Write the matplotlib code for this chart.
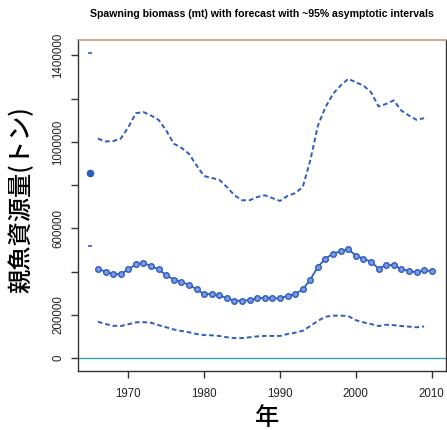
import matplotlib

matplotlib.use("Agg")
import matplotlib.pyplot as plt

# Spawning biomass estimates (mt) and ~95% asymptotic intervals
years = list(range(1966, 2011))
biomass = [
    414000, 399000, 388000, 388000, 410000, 434000, 440000, 425000, 410000, 383000,
    363000, 351000, 340000, 317000, 296000, 296000, 291000, 276000, 265000, 265000,
    268000, 276000, 279000, 276000, 276000, 288000, 296000, 317000, 363000, 422000,
    460000, 483000, 494000, 503000, 474000, 460000, 445000, 414000, 430000, 430000,
    411000, 403000, 396000, 406000, 402000,
]

ci_years = list(range(1966, 2010))
upper = [
    1015000, 1002000, 1004000, 1015000, 1068000, 1133000, 1138000, 1122000, 1102000, 1053000,
    992000, 973000, 945000, 891000, 842000, 833000, 825000, 791000, 753000, 730000,
    730000, 745000, 753000, 740000, 727000, 750000, 763000, 791000, 915000, 1076000,
    1161000, 1223000, 1261000, 1292000, 1276000, 1261000, 1230000, 1164000, 1176000, 1192000,
    1145000, 1122000, 1102000, 1110000,
]
lower = [
    168000, 157000, 149000, 148000, 156000, 165000, 166000, 163000, 152000, 142000,
    132000, 125000, 119000, 111000, 106000, 105000, 102000, 96000, 92000, 92000,
    96000, 100000, 102000, 102000, 102000, 111000, 117000, 126000, 148000, 172000,
    191000, 196000, 196000, 194000, 175000, 165000, 157000, 148000, 154000, 152000,
    148000, 145000, 142000, 146000,
]

# Unfished (virgin) spawning biomass with its interval
virgin_year = 1965
virgin = 855000
virgin_hi = 1413000
virgin_lo = 517000

yticks = [0, 200000, 400000, 600000, 800000, 1000000, 1200000, 1400000]
ytick_labels = ["0", "200000", "", "600000", "", "1000000", "", "1400000"]
xticks = [1970, 1980, 1990, 2000, 2010]

BLUE = "#2e5cbf"
FILL = "#7d9be0"
TEAL = "#3a9fb5"
INK = "#333333"
DASH = (0, (2.4, 1.5))

plt.rcParams["font.family"] = ["Liberation Sans", "DejaVu Sans"]

fig = plt.figure(figsize=(4.47, 4.30), dpi=100)
ax = fig.add_axes([0.1745, 0.1372, 0.8233, 0.7698])

ax.axhline(0, color=TEAL, linewidth=1.0)
ax.plot(ci_years, upper, color=BLUE, linewidth=1.4, linestyle=DASH)
ax.plot(ci_years, lower, color=BLUE, linewidth=1.4, linestyle=DASH)
ax.plot(years, biomass, color=BLUE, linewidth=1.3, marker="o", markersize=4.0,
        markerfacecolor=FILL, markeredgecolor=BLUE, markeredgewidth=1.0)

ax.plot([virgin_year], [virgin], "o", color=BLUE, markersize=4.5)
ax.plot([virgin_year, virgin_year], [virgin_hi, virgin_lo], linestyle="none",
        marker="_", color=BLUE, markersize=3, markeredgewidth=1.2)

ax.set_xlim(1963.37, 2011.89)
ax.set_ylim(-60200, 1471700)
ax.set_xticks(xticks)
ax.set_yticks(yticks)
ax.set_yticklabels(ytick_labels, rotation=90, va="center")
ax.tick_params(axis="both", length=5, width=1.0, color=INK, labelsize=8.3,
               labelcolor="#222222")
ax.tick_params(axis="x", pad=7)
ax.tick_params(axis="y", pad=5)

for side in ("left", "bottom", "right"):
    ax.spines[side].set_color(INK)
    ax.spines[side].set_linewidth(1.0)
ax.spines["top"].set_color("#c99a7a")
ax.spines["top"].set_linewidth(1.2)

ax.set_title("Spawning biomass (mt) with forecast with ~95% asymptotic intervals",
             fontsize=7.6, fontweight="bold", pad=16.5)
fig.text(0.597, 0.028, "年", family="Noto Sans CJK JP", fontsize=17.5,
         fontweight="medium", ha="center", va="center")
fig.text(0.049, 0.535, "親魚資源量(トン)", family="Noto Sans CJK JP", fontsize=17.5,
         fontweight="medium", rotation=90, ha="center", va="center")

fig.savefig("out.png", dpi=100)
